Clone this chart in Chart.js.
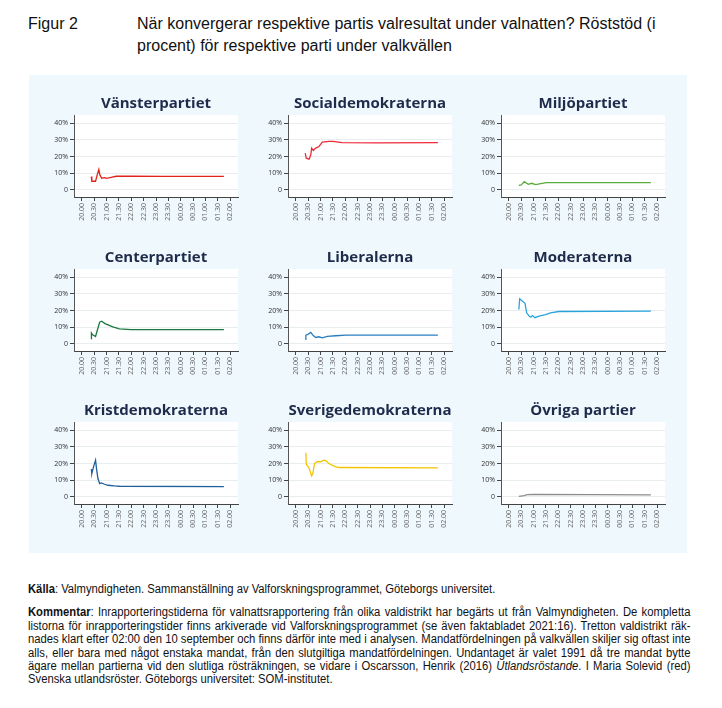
<!DOCTYPE html>
<html>
<head>
<meta charset="utf-8">
<script src="https://cdn.jsdelivr.net/npm/chart.js@4"></script>
<style>
  body { margin: 0; background: #fff; width: 722px; height: 708px; position: relative; overflow: hidden; }
  .rubrik { position: absolute; font-family: "Liberation Sans", Arial, sans-serif; font-size: 16px; color: #111; line-height: 22px; }
  #ruta { position: absolute; left: 29px; top: 75px; width: 658px; height: 478px; background: #eff8fd; }
  canvas { position: absolute; }
  #fot { position: absolute; left: 28px; top: 583px; width: 736px; transform: scaleX(0.9); transform-origin: 0 0; font-family: "Liberation Sans", Arial, sans-serif; font-size: 12.5px; line-height: 13.4px; color: #111; }
  #fot p { margin: 0 0 10px 0; }
  #fot .rad { display: block; white-space: nowrap; text-align: justify; text-align-last: justify; }
  #fot .sista { display: block; white-space: nowrap; }
</style>
</head>
<body>
<div class="rubrik" style="left:28px; top:13px;">Figur 2</div>
<div class="rubrik" style="left:137px; top:13px; width:560px;">När konvergerar respektive partis valresultat under valnatten? Röststöd (i<br>procent) för respektive parti under valkvällen</div>
<div id="ruta"></div>
<div id="fot">
  <p><b>Källa</b>: Valmyndigheten. Sammanställning av Valforskningsprogrammet, Göteborgs universitet.</p>
  <p>
    <span class="rad"><b>Kommentar</b>: Inrapporteringstiderna för valnattsrapportering från olika valdistrikt har begärts ut från Valmyndigheten. De kompletta</span>
    <span class="rad">listorna för inrapporteringstider finns arkiverade vid Valforskningsprogrammet (se även faktabladet 2021:16). Tretton valdistrikt räk-</span>
    <span class="rad">nades klart efter 02:00 den 10 september och finns därför inte med i analysen. Mandatfördelningen på valkvällen skiljer sig oftast inte</span>
    <span class="rad">alls, eller bara med något enstaka mandat, från den slutgiltiga mandatfördelningen. Undantaget är valet 1991 då tre mandat bytte</span>
    <span class="rad">ägare mellan partierna vid den slutliga rösträkningen, se vidare i Oscarsson, Henrik (2016) <i>Utlandsröstande</i>. I Maria Solevid (red)</span>
    <span class="sista">Svenska utlandsröster. Göteborgs universitet: SOM-institutet.</span>
  </p>
</div>

<script>
// tid = minuter efter 20.00, proc = röststöd i procent
const vTid = [22.6, 24, 33, 37, 41, 43.5, 48, 55, 60, 71, 83, 120, 200, 345];
const vProc = [8, 5.2, 5.2, 9, 12.2, 9, 7, 7.4, 6.9, 7.5, 8.2, 8.2, 8.1, 8.1];

const sTid = [22.5, 25, 32, 36, 38, 42, 48, 56, 64, 80, 90, 112, 200, 345];
const sProc = [22, 19, 18.4, 21, 25, 23.6, 25, 26, 28.6, 29, 29, 28.3, 28.2, 28.3];

const mpTid = [24, 30, 37, 47, 55, 65, 77, 91, 200, 345];
const mpProc = [2.8, 3, 5, 3.4, 4, 3.2, 3.8, 4.4, 4.4, 4.4];

const cTid = [22.6, 23, 26, 33, 43, 48, 56, 75, 91, 120, 345];
const cProc = [3, 6.5, 5.5, 4.5, 13, 13.6, 12.2, 10.2, 9, 8.6, 8.6];

const lTid = [22.5, 24, 30, 36, 42, 48, 56, 64, 76, 97, 121, 345];
const lProc = [2.7, 5.3, 5.9, 6.9, 5, 3.9, 4.3, 3.7, 4.5, 4.9, 5.3, 5.3];

const mTid = [24, 26, 33, 39, 43, 49, 53, 57, 63, 73, 89, 101, 121, 345];
const mProc = [20.6, 27, 25.5, 24.3, 18.6, 16.7, 16, 17, 15.7, 16.7, 17.5, 18.6, 19.4, 19.6];

const kdTid = [22.6, 24, 28, 33, 35.5, 38.7, 43, 47, 55, 63, 79, 91, 345];
const kdProc = [16.6, 14, 18, 22, 16.6, 11.2, 8, 8.4, 7.6, 7, 6.6, 6.4, 6.2];

const sdTid = [24, 25, 32, 38, 41, 45, 52, 60, 68, 73, 80, 91, 103, 345];
const sdProc = [26.4, 19.6, 17.2, 12.6, 14, 20, 21.2, 21, 22, 21.6, 20, 18.6, 17.6, 17.4];

const ovTid = [24, 37, 44, 61, 200, 345];
const ovProc = [0.4, 0.8, 1.4, 1.5, 1.4, 1.3];

const xTicks = [0, 30, 60, 90, 120, 150, 180, 210, 240, 270, 300, 330, 360];
const yTicks = [0, 10, 20, 30, 40];

const partier = [
  { namn: 'Vänsterpartiet', tid: vTid, proc: vProc, farg: '#e2231a' },
  { namn: 'Socialdemokraterna', tid: sTid, proc: sProc, farg: '#ee2a3b' },
  { namn: 'Miljöpartiet', tid: mpTid, proc: mpProc, farg: '#5aab3c' },
  { namn: 'Centerpartiet', tid: cTid, proc: cProc, farg: '#1a7a3e' },
  { namn: 'Liberalerna', tid: lTid, proc: lProc, farg: '#2a7ec0' },
  { namn: 'Moderaterna', tid: mTid, proc: mProc, farg: '#2aa3dd' },
  { namn: 'Kristdemokraterna', tid: kdTid, proc: kdProc, farg: '#1f5f9c' },
  { namn: 'Sverigedemokraterna', tid: sdTid, proc: sdProc, farg: '#f5c400' },
  { namn: 'Övriga partier', tid: ovTid, proc: ovProc, farg: '#8c8c8c' }
];

// placering av varje ruta (y-axelns x, diagrammets överkant)
const kolX = [74, 288, 501];
const radY = [115, 269, 422];
const plotB = 164, plotH = 82, axB = 32, titelH = 20, xAxH = 28;

function tidText(m) {
  const h = (20 + Math.floor(m / 60)) % 24;
  const mm = m % 60;
  return String(h).padStart(2, '0') + '.' + String(mm).padStart(2, '0');
}

const vitYta = {
  id: 'vitYta',
  beforeDraw(chart) {
    const a = chart.chartArea;
    chart.ctx.save();
    chart.ctx.fillStyle = '#ffffff';
    chart.ctx.fillRect(a.left, a.top, a.right - a.left, a.bottom - a.top);
    chart.ctx.restore();
  }
};

partier.forEach((p, i) => {
  const cv = document.createElement('canvas');
  const w = axB * 2 + plotB, h = titelH + plotH + xAxH;
  cv.width = w; cv.height = h;
  cv.style.left = (kolX[i % 3] - axB) + 'px';
  cv.style.top = (radY[Math.floor(i / 3)] - titelH) + 'px';
  cv.style.width = w + 'px'; cv.style.height = h + 'px';
  document.body.appendChild(cv);

  new Chart(cv.getContext('2d'), {
    type: 'line',
    data: {
      datasets: [{
        data: p.tid.map((t, j) => ({ x: t, y: p.proc[j] })),
        borderColor: p.farg,
        borderWidth: 1.3,
        pointRadius: 0,
        tension: 0,
        fill: false
      }]
    },
    options: {
      responsive: false,
      animation: false,
      layout: { padding: 0 },
      plugins: {
        legend: { display: false },
        tooltip: { enabled: false },
        title: {
          display: true,
          text: p.namn,
          color: '#1e2b4b',
          font: { family: 'Open Sans', size: 15, weight: 'bold' },
          padding: { top: 0, bottom: 2 }
        }
      },
      scales: {
        x: {
          type: 'linear',
          min: -19.4,
          max: 379.4,
          afterBuildTicks: s => { s.ticks = xTicks.map(v => ({ value: v })); },
          afterFit: s => { s.height = xAxH; },
          ticks: {
            autoSkip: false,
            minRotation: 90,
            maxRotation: 90,
            padding: 2,
            color: '#666',
            font: { family: 'Open Sans', size: 7 },
            callback: v => tidText(v)
          },
          grid: { drawOnChartArea: false, tickLength: 4, tickColor: '#444' },
          border: { color: '#444', width: 1 }
        },
        y: {
          min: -4.2,
          max: 44.8,
          afterBuildTicks: s => { s.ticks = yTicks.map(v => ({ value: v })); },
          afterFit: s => { s.width = axB; },
          ticks: {
            padding: 2,
            color: '#333',
            font: { family: 'Open Sans', size: 7 },
            callback: v => v === 0 ? '0' : v + '%'
          },
          grid: { color: '#e8eef0', lineWidth: 1, tickLength: 4, tickColor: '#444' },
          border: { color: '#555', width: 1 }
        },
        hoger: {
          position: 'right',
          display: true,
          afterFit: s => { s.width = axB; },
          ticks: { display: false },
          grid: { display: false },
          border: { display: false }
        }
      }
    },
    plugins: [vitYta]
  });
});
</script>
</body>
</html>
